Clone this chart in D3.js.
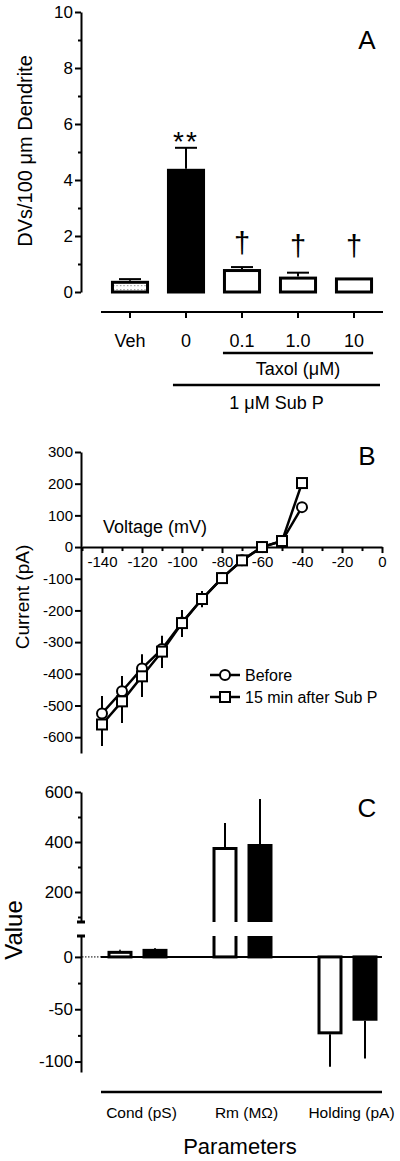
<!DOCTYPE html>
<html><head><meta charset="utf-8">
<script src="https://cdn.jsdelivr.net/npm/d3@7"></script>
<style>body{margin:0;background:#fff}svg{display:block}text{font-family:"Liberation Sans",Arial,sans-serif;fill:#000}</style>
</head><body><svg id="c" width="400" height="1161"></svg>
<script>
// ---------- Panel A data ----------
const catsA = ["Veh", "0", "0.1", "1.0", "10"];
const meanA = [0.40, 4.40, 0.82, 0.55, 0.52];
const errA  = [0.06, 0.75, 0.07, 0.14, 0.00];
const marksA = ["", "**", "†", "†", "†"];
const ticksA = [0, 2, 4, 6, 8, 10];
const minorA = [1, 3, 5, 7, 9];

// ---------- Panel B data ----------
const voltB = [-140, -130, -120, -110, -100, -90, -80, -70, -60, -50, -40];
const beforeB = [-525, -455, -383, -322, -238, -164, -98, -42, 0, 19, 126];
const beforeErrB = [55, 48, 45, 42, 39, 25, 10, 8, 5, 5, 10];
const afterB = [-560, -487, -408, -330, -240, -164, -98, -42, 0, 19, 202];
const afterErrB = [68, 68, 65, 52, 44, 26, 10, 8, 5, 5, 10];
const xTicksB = [-140, -120, -100, -80, -60, -40, -20, 0];
const xMinorB = [-150, -130, -110, -90, -70, -50, -30, -10];
const yTicksB = [-600, -500, -400, -300, -200, -100, 0, 100, 200, 300];

// ---------- Panel C data ----------
const groupsC = ["Cond (pS)", "Rm (MΩ)", "Holding (pA)"];
const seriesC = ["Before", "After"];
const beforeC = [5.8, 380, -74];
const beforeErrC = [1.0, 96, 31];
const afterC = [7.7, 392, -61];
const afterErrC = [0.8, 180, 36];
const upperTicksC = [200, 400, 600];
const upperMinorC = [100, 300, 500];
const lowerTicksC = [-100, -50, 0];
const lowerMinorC = [-75, -25];

const svg = d3.select("#c");
const defs = svg.append("defs");
const pat = defs.append("pattern").attr("id", "dots").attr("patternUnits", "userSpaceOnUse")
  .attr("width", 3.5).attr("height", 4);
pat.append("rect").attr("width", 3.5).attr("height", 4).attr("fill", "#fff");
pat.append("rect").attr("x", 1).attr("y", 1).attr("width", 1.2).attr("height", 1.2).attr("fill", "#888");

const fmt = d => String(d);
function styleAxis(g, fs, sw) {
  g.attr("font-family", null).attr("font-size", null);
  g.selectAll("path,line").attr("stroke", "#000").attr("stroke-width", sw);
  g.selectAll("text").style("font-size", fs + "px").attr("fill", "#000");
}
function minor(g, axisFn, size, sw) {
  const m = g.call(axisFn.tickSize(size).tickFormat(""));
  m.select(".domain").remove();
  m.selectAll("line").attr("stroke", "#000").attr("stroke-width", sw);
}

// ================= PANEL A =================
const yA = d3.scaleLinear([0, 10], [292, 12]);
const xA = d3.scaleBand(catsA, [102, 382]).paddingInner(0.32).paddingOuter(0.16);
const gA = svg.append("g");
const axA = gA.append("g").attr("transform", "translate(81,0)")
  .call(d3.axisLeft(yA).tickValues(ticksA).tickFormat(fmt).tickSize(6).tickSizeOuter(0).tickPadding(2));
styleAxis(axA, 17, 2);
minor(gA.append("g").attr("transform", "translate(81,0)"), d3.axisLeft(yA).tickValues(minorA), 3, 2);

catsA.forEach((c, i) => {
  if (errA[i] <= 0) return;
  const cx = xA(c) + xA.bandwidth() / 2;
  gA.append("line").attr("x1", cx).attr("x2", cx).attr("y1", yA(meanA[i])).attr("y2", yA(meanA[i] + errA[i]))
    .attr("stroke", "#000").attr("stroke-width", 2);
  gA.append("line").attr("x1", cx - 11).attr("x2", cx + 11).attr("y1", yA(meanA[i] + errA[i])).attr("y2", yA(meanA[i] + errA[i]))
    .attr("stroke", "#000").attr("stroke-width", 2);
});
gA.selectAll("rect.bar").data(catsA).join("rect").attr("class", "bar")
  .attr("x", d => xA(d) + 1.5).attr("width", xA.bandwidth() - 3)
  .attr("y", (d, i) => yA(meanA[i]) + 1.5)
  .attr("height", (d, i) => yA(0) - yA(meanA[i]) - 1.5)
  .attr("fill", (d, i) => i === 0 ? "url(#dots)" : (i === 1 ? "#000" : "#fff"))
  .attr("stroke", "#000").attr("stroke-width", 3);
catsA.forEach((c, i) => {
  if (!marksA[i]) return;
  const cx = xA(c) + xA.bandwidth() / 2;
  const top = yA(meanA[i] + errA[i]);
  if (marksA[i] === "**") {
    gA.append("text").attr("x", cx).attr("y", top + 3).attr("text-anchor", "middle")
      .style("font-size", "28px").style("letter-spacing", "2px").text(marksA[i]);
  } else {
    gA.append("text").attr("x", cx).attr("y", Math.min(top - 14, yA(1.3))).attr("text-anchor", "middle")
      .style("font-size", "29px").text(marksA[i]);
  }
});
gA.append("line").attr("x1", 101).attr("x2", 383).attr("y1", 312).attr("y2", 312).attr("stroke", "#000").attr("stroke-width", 2);
catsA.forEach(c => {
  const cx = xA(c) + xA.bandwidth() / 2;
  gA.append("line").attr("x1", cx).attr("x2", cx).attr("y1", 312).attr("y2", 318).attr("stroke", "#000").attr("stroke-width", 2);
  gA.append("text").attr("x", cx).attr("y", 347).attr("text-anchor", "middle").style("font-size", "18px").text(c);
});
const tx1 = xA("0.1"), tx2 = xA("10") + xA.bandwidth();
gA.append("line").attr("x1", tx1).attr("x2", tx2).attr("y1", 353).attr("y2", 353).attr("stroke", "#000").attr("stroke-width", 2.5);
gA.append("text").attr("x", (tx1 + tx2) / 2).attr("y", 375).attr("text-anchor", "middle").style("font-size", "18px").text("Taxol (μM)");
const sx1 = xA("0") + 6, sx2 = 380;
gA.append("line").attr("x1", sx1).attr("x2", sx2).attr("y1", 385).attr("y2", 385).attr("stroke", "#000").attr("stroke-width", 2.5);
gA.append("text").attr("x", (sx1 + sx2) / 2).attr("y", 409).attr("text-anchor", "middle").style("font-size", "18px").text("1 μM Sub P");
gA.append("text").attr("x", 367).attr("y", 49).attr("text-anchor", "middle").style("font-size", "26px").text("A");
gA.append("text").attr("transform", "translate(32,151) rotate(-90)").attr("text-anchor", "middle")
  .style("font-size", "20px").text("DVs/100 μm Dendrite");

// ================= PANEL B =================
const xB = d3.scaleLinear([-150, 0], [82, 382]);
const yB = d3.scaleLinear([-650, 300], [753, 452]);
const gB = svg.append("g");
const axBy = gB.append("g").attr("transform", "translate(81,0)")
  .call(d3.axisLeft(yB).tickValues(yTicksB).tickFormat(fmt).tickSize(6).tickSizeOuter(0).tickPadding(2));
styleAxis(axBy, 15, 2);
const axBx = gB.append("g").attr("transform", `translate(0,${yB(0)})`)
  .call(d3.axisBottom(xB).tickValues(xTicksB).tickFormat(fmt).tickSize(6).tickSizeOuter(0).tickPadding(3));
styleAxis(axBx, 15, 2);
minor(gB.append("g").attr("transform", `translate(0,${yB(0)})`), d3.axisBottom(xB).tickValues(xMinorB), 4, 2);

voltB.forEach((v, i) => {
  const cx = xB(v);
  gB.append("line").attr("x1", cx).attr("x2", cx).attr("y1", yB(beforeB[i])).attr("y2", yB(beforeB[i] + beforeErrB[i]))
    .attr("stroke", "#000").attr("stroke-width", 2);
  gB.append("line").attr("x1", cx).attr("x2", cx).attr("y1", yB(afterB[i])).attr("y2", yB(afterB[i] - afterErrB[i]))
    .attr("stroke", "#000").attr("stroke-width", 2);
});
const lineB = d3.line().x((d, i) => xB(voltB[i])).y(d => yB(d));
gB.append("path").attr("d", lineB(beforeB)).attr("fill", "none").attr("stroke", "#000").attr("stroke-width", 2.5);
gB.append("path").attr("d", lineB(afterB)).attr("fill", "none").attr("stroke", "#000").attr("stroke-width", 2.5);
gB.selectAll("circle.pt").data(beforeB).join("circle").attr("class", "pt")
  .attr("cx", (d, i) => xB(voltB[i])).attr("cy", d => yB(d)).attr("r", 5)
  .attr("fill", "#fff").attr("stroke", "#000").attr("stroke-width", 2);
gB.selectAll("rect.pt").data(afterB).join("rect").attr("class", "pt")
  .attr("x", (d, i) => xB(voltB[i]) - 5).attr("y", d => yB(d) - 5).attr("width", 10).attr("height", 10)
  .attr("fill", "#fff").attr("stroke", "#000").attr("stroke-width", 2);
const legB = [{ name: "Before", y: 675, shape: "circle" }, { name: "15 min after Sub P", y: 697, shape: "square" }];
legB.forEach(l => {
  gB.append("line").attr("x1", 210).attr("x2", 240).attr("y1", l.y).attr("y2", l.y).attr("stroke", "#000").attr("stroke-width", 2.5);
  if (l.shape === "circle") gB.append("circle").attr("cx", 225).attr("cy", l.y).attr("r", 5).attr("fill", "#fff").attr("stroke", "#000").attr("stroke-width", 2);
  else gB.append("rect").attr("x", 220).attr("y", l.y - 5).attr("width", 10).attr("height", 10).attr("fill", "#fff").attr("stroke", "#000").attr("stroke-width", 2);
  gB.append("text").attr("x", 245).attr("y", l.y).attr("dy", "0.36em").style("font-size", "16px").text(l.name);
});
gB.append("text").attr("x", 155).attr("y", 533).attr("text-anchor", "middle").style("font-size", "18px").text("Voltage (mV)");
gB.append("text").attr("x", 367).attr("y", 465).attr("text-anchor", "middle").style("font-size", "26px").text("B");
gB.append("text").attr("transform", "translate(29,597) rotate(-90)").attr("text-anchor", "middle")
  .style("font-size", "19px").text("Current (pA)");

// ================= PANEL C =================
const yCu = d3.scaleLinear([80, 600], [922, 792]);
const yCl = d3.scaleLinear([-110, 20], [1072, 936]);
const xC = d3.scaleBand(groupsC, [85, 400]);
const xSub = d3.scaleBand(seriesC, [0, xC.bandwidth()]).paddingInner(0.286).paddingOuter(0.643);
const gC = svg.append("g");
defs.append("clipPath").attr("id", "clipU").append("rect").attr("x", 0).attr("y", 0).attr("width", 400).attr("height", 922);
defs.append("clipPath").attr("id", "clipL").append("rect").attr("x", 0).attr("y", 936).attr("width", 400).attr("height", 225);

const axCu = gC.append("g").attr("transform", "translate(81,0)")
  .call(d3.axisLeft(yCu).tickValues(upperTicksC).tickFormat(fmt).tickSize(6).tickSizeOuter(0).tickPadding(2));
styleAxis(axCu, 17, 2);
minor(gC.append("g").attr("transform", "translate(81,0)"), d3.axisLeft(yCu).tickValues(upperMinorC), 3, 2);
const axCl = gC.append("g").attr("transform", "translate(81,0)")
  .call(d3.axisLeft(yCl).tickValues(lowerTicksC).tickFormat(fmt).tickSize(6).tickSizeOuter(0).tickPadding(2));
styleAxis(axCl, 17, 2);
minor(gC.append("g").attr("transform", "translate(81,0)"), d3.axisLeft(yCl).tickValues(lowerMinorC), 3, 2);
[yCu(80), yCl(20)].forEach(y => gC.append("line").attr("x1", 77).attr("x2", 85).attr("y1", y).attr("y2", y)
  .attr("stroke", "#000").attr("stroke-width", 3));

gC.append("line").attr("x1", 82).attr("x2", 101).attr("y1", yCl(0)).attr("y2", yCl(0))
  .attr("stroke", "#000").attr("stroke-width", 1).attr("stroke-dasharray", "1.5,1.5");
gC.append("line").attr("x1", 101).attr("x2", 382).attr("y1", yCl(0)).attr("y2", yCl(0)).attr("stroke", "#000").attr("stroke-width", 2);

const valsC = [beforeC, afterC], errsC = [beforeErrC, afterErrC];
groupsC.forEach((g, gi) => {
  seriesC.forEach((s, si) => {
    const v = valsC[si][gi], e = errsC[si][gi];
    const x = xC(g) + xSub(s), w = xSub.bandwidth(), cx = x + w / 2;
    const fill = si === 0 ? "#fff" : "#000";
    const sc = v > 80 ? yCu : yCl;
    const tip = v >= 0 ? v + e : v - e;
    gC.append("line").attr("x1", cx).attr("x2", cx).attr("y1", sc(v)).attr("y2", sc(tip))
      .attr("stroke", "#000").attr("stroke-width", 2);
    const lo = Math.min(v, 0), hi = Math.max(v, 0);
    const yTop = yCl(hi), yBot = yCl(lo);
    gC.append("rect").attr("clip-path", "url(#clipL)")
      .attr("x", x + 1.5).attr("width", w - 3)
      .attr("y", v >= 0 ? yTop + 1.5 : yTop).attr("height", Math.max(0, yBot - yTop - 1.5))
      .attr("fill", fill).attr("stroke", "#000").attr("stroke-width", 3);
    if (v > 80) {
      gC.append("rect").attr("clip-path", "url(#clipU)")
        .attr("x", x + 1.5).attr("width", w - 3)
        .attr("y", yCu(v) + 1.5).attr("height", yCu(0) - yCu(v))
        .attr("fill", fill).attr("stroke", "#000").attr("stroke-width", 3);
    }
  });
});
gC.append("line").attr("x1", 101).attr("x2", 382).attr("y1", 1092).attr("y2", 1092).attr("stroke", "#000").attr("stroke-width", 2.5);
groupsC.forEach(g => {
  gC.append("text").attr("x", xC(g) + xC.bandwidth() / 2 + 4).attr("y", 1118).attr("text-anchor", "middle")
    .style("font-size", "15.5px").text(g);
});
gC.append("text").attr("x", 240).attr("y", 1154).attr("text-anchor", "middle").style("font-size", "22px").text("Parameters");
gC.append("text").attr("x", 367).attr("y", 817).attr("text-anchor", "middle").style("font-size", "26px").text("C");
gC.append("text").attr("transform", "translate(22,930) rotate(-90)").attr("text-anchor", "middle")
  .style("font-size", "24px").text("Value");
</script></body></html>
